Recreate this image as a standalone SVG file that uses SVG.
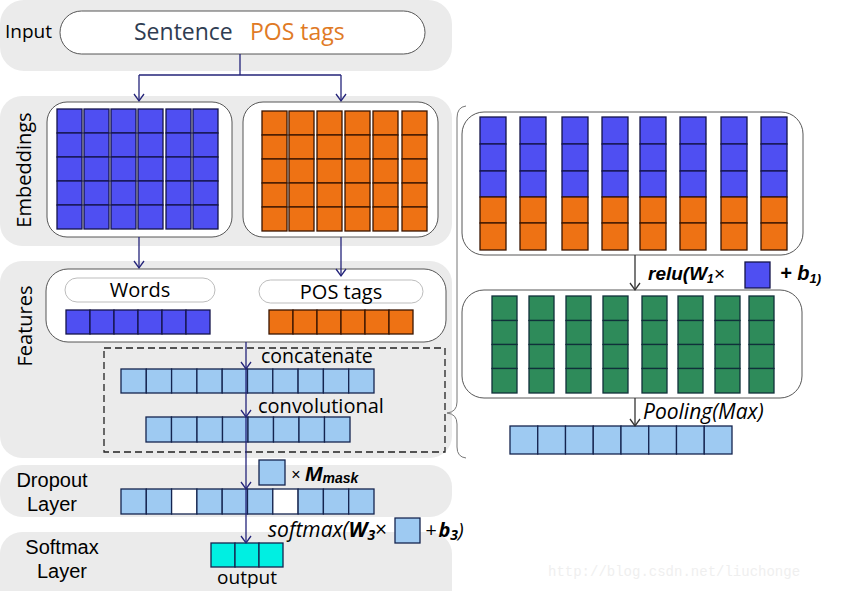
<svg xmlns="http://www.w3.org/2000/svg" xmlns:xlink="http://www.w3.org/1999/xlink" width="861" height="591" viewBox="0 0 861 591">
<style>
.band{fill:#ebebeb}
.box{fill:#fff;stroke:#444;stroke-width:0.9}
.pill{fill:#fff;stroke:#bdbdbd;stroke-width:1}
.b{fill:#4f4ff2;stroke:#14144a;stroke-width:1.3}
.o{fill:#ee7214;stroke:#3a1500;stroke-width:1.3}
.g{fill:#2e8b5a;stroke:#10303a;stroke-width:1.3}
.l{fill:#9ecaf2;stroke:#14244f;stroke-width:1.3}
.w{fill:#fff;stroke:#14244f;stroke-width:1.3}
.c{fill:#00efe2;stroke:#14244f;stroke-width:1.3}
.t{font-family:"Open Sans","Noto Sans","Liberation Sans",sans-serif;fill:#000}
.lab{font-family:"Liberation Sans",Arial,sans-serif;fill:#000;font-size:20px}
.conn{stroke:#24247a;stroke-width:1.3;fill:none}
.conng{stroke:#333;stroke-width:1.3;fill:none}
.math{font-family:"Liberation Sans",Arial,sans-serif;font-style:italic;fill:#000}
</style>
<defs>
<marker id="ah" markerWidth="12" markerHeight="12" refX="8" refY="6" orient="auto" markerUnits="userSpaceOnUse"><path d="M1,1 L8,6 L1,11" fill="none" stroke="#24247a" stroke-width="1.3"/></marker>
<marker id="ahg" markerWidth="12" markerHeight="12" refX="8" refY="6" orient="auto" markerUnits="userSpaceOnUse"><path d="M1,1 L8,6 L1,11" fill="none" stroke="#333" stroke-width="1.3"/></marker>
<g id="bcol"><rect class="b" x="0" y="0" width="25" height="24"/><rect class="b" x="0" y="24" width="25" height="24"/><rect class="b" x="0" y="48" width="25" height="24"/><rect class="b" x="0" y="72" width="25" height="24"/><rect class="b" x="0" y="96" width="25" height="24"/></g>
<g id="ocol"><rect class="o" x="0" y="0" width="25" height="24"/><rect class="o" x="0" y="24" width="25" height="24"/><rect class="o" x="0" y="48" width="25" height="24"/><rect class="o" x="0" y="72" width="25" height="24"/><rect class="o" x="0" y="96" width="25" height="24"/></g>
<g id="mcol"><rect class="b" x="0" y="0" width="26" height="27"/><rect class="b" x="0" y="27" width="26" height="27"/><rect class="b" x="0" y="54" width="26" height="26"/><rect class="o" x="0" y="80" width="26" height="26"/><rect class="o" x="0" y="106" width="26" height="27"/></g>
<g id="gcol"><rect class="g" x="0" y="0" width="25" height="24.5"/><rect class="g" x="0" y="24.5" width="25" height="24"/><rect class="g" x="0" y="48.5" width="25" height="24"/><rect class="g" x="0" y="72.5" width="25" height="24.5"/></g>
</defs>

<g id="bands">
<rect class="band" x="0" y="0" width="452" height="71" rx="24"/>
<rect class="band" x="0" y="96" width="452" height="150" rx="22"/>
<rect class="band" x="0" y="261" width="452" height="197" rx="22"/>
<rect class="band" x="0" y="465" width="452" height="52" rx="22"/>
<rect class="band" x="0" y="532" width="452" height="80" rx="22"/>
</g>

<g id="input">
<text class="t" x="5" y="38" font-size="19">Input</text>
<rect class="box" x="60" y="11" width="365" height="43" rx="21.5"/>
<text x="134" y="40" font-size="23" font-family="Open Sans,Noto Sans,Liberation Sans,sans-serif" fill="#2f3d52">Sentence</text>
<text x="250" y="40" font-size="23" font-family="Open Sans,Noto Sans,Liberation Sans,sans-serif" fill="#e07a25">POS tags</text>
</g>

<g id="embeddings">
<text class="t" font-size="20" transform="translate(31,170) rotate(-90)" text-anchor="middle">Embeddings</text>
<rect class="box" x="47" y="102" width="185" height="135" rx="20"/>
<use xlink:href="#bcol" x="57" y="109"/><use xlink:href="#bcol" x="84" y="109"/><use xlink:href="#bcol" x="111" y="109"/><use xlink:href="#bcol" x="138" y="109"/><use xlink:href="#bcol" x="166" y="109"/><use xlink:href="#bcol" x="193" y="109"/>
<rect class="box" x="243" y="102" width="195" height="135" rx="20"/>
<use xlink:href="#ocol" x="262" y="111"/><use xlink:href="#ocol" x="289" y="111"/><use xlink:href="#ocol" x="317" y="111"/><use xlink:href="#ocol" x="345" y="111"/><use xlink:href="#ocol" x="373" y="111"/><use xlink:href="#ocol" x="402" y="111"/>
</g>

<g id="features">
<text class="t" font-size="20" transform="translate(32,326) rotate(-90)" text-anchor="middle">Features</text>
<rect class="box" x="46" y="269" width="400" height="73" rx="22"/>
<rect class="pill" x="65" y="278" width="150" height="24" rx="12"/>
<text class="t" x="140" y="297" font-size="20" text-anchor="middle">Words</text>
<rect class="pill" x="259" y="280" width="164" height="23" rx="11.5"/>
<text class="t" x="341" y="299" font-size="20" text-anchor="middle">POS tags</text>
<rect class="b" x="66" y="310" width="24" height="24"/><rect class="b" x="90" y="310" width="24" height="24"/><rect class="b" x="114" y="310" width="24" height="24"/><rect class="b" x="138" y="310" width="24" height="24"/><rect class="b" x="162" y="310" width="24" height="24"/><rect class="b" x="186" y="310" width="24" height="24"/>
<rect class="o" x="269" y="310" width="24" height="24"/><rect class="o" x="293" y="310" width="24" height="24"/><rect class="o" x="317" y="310" width="24" height="24"/><rect class="o" x="341" y="310" width="24" height="24"/><rect class="o" x="365" y="310" width="24" height="24"/><rect class="o" x="389" y="310" width="24" height="24"/>
</g>

<g id="convblock">
<rect x="104" y="348" width="341" height="104" fill="none" stroke="#222" stroke-width="1.3" stroke-dasharray="7,4"/>
<text class="t" x="261" y="363" font-size="19.5">concatenate</text>
<rect class="l" x="121" y="369" width="25.3" height="24"/><rect class="l" x="146.3" y="369" width="25.3" height="24"/><rect class="l" x="171.6" y="369" width="25.3" height="24"/><rect class="l" x="196.9" y="369" width="25.3" height="24"/><rect class="l" x="222.2" y="369" width="25.3" height="24"/><rect class="l" x="247.5" y="369" width="25.3" height="24"/><rect class="l" x="272.8" y="369" width="25.3" height="24"/><rect class="l" x="298.1" y="369" width="25.3" height="24"/><rect class="l" x="323.4" y="369" width="25.3" height="24"/><rect class="l" x="348.7" y="369" width="25.3" height="24"/>
<text class="t" x="258" y="413" font-size="20">convolutional</text>
<rect class="l" x="146" y="417" width="25.5" height="25"/><rect class="l" x="171.5" y="417" width="25.5" height="25"/><rect class="l" x="197" y="417" width="25.5" height="25"/><rect class="l" x="222.5" y="417" width="25.5" height="25"/><rect class="l" x="248" y="417" width="25.5" height="25"/><rect class="l" x="273.5" y="417" width="25.5" height="25"/><rect class="l" x="299" y="417" width="25.5" height="25"/><rect class="l" x="324.5" y="417" width="25.5" height="25"/>
</g>

<g id="dropout">
<text class="lab" x="52" y="487" text-anchor="middle">Dropout</text>
<text class="lab" x="52" y="511" text-anchor="middle">Layer</text>
<rect class="l" x="259" y="460" width="26" height="25"/>
<text class="math" x="291" y="480" font-size="16" font-style="normal">×</text>
<text class="math" x="305" y="481" font-size="21" font-weight="bold">M<tspan font-size="14" dy="2">mask</tspan></text>
<rect class="l" x="121" y="489" width="25.3" height="25"/><rect class="l" x="146.3" y="489" width="25.3" height="25"/><rect class="w" x="171.6" y="489" width="25.3" height="25"/><rect class="l" x="196.9" y="489" width="25.3" height="25"/><rect class="l" x="222.2" y="489" width="25.3" height="25"/><rect class="l" x="247.5" y="489" width="25.3" height="25"/><rect class="w" x="272.8" y="489" width="25.3" height="25"/><rect class="l" x="298.1" y="489" width="25.3" height="25"/><rect class="l" x="323.4" y="489" width="25.3" height="25"/><rect class="l" x="348.7" y="489" width="25.3" height="25"/>
</g>

<g id="softmax">
<text class="lab" x="62" y="554" text-anchor="middle">Softmax</text>
<text class="lab" x="62" y="578" text-anchor="middle">Layer</text>
<text class="t" x="268" y="537" font-size="21" font-style="italic">softmax(<tspan font-weight="bold">W<tspan font-size="14" dy="3">3</tspan></tspan><tspan dy="-3" font-style="normal">×</tspan></text>
<rect class="l" x="395" y="518" width="25" height="25"/>
<text class="t" x="425" y="537" font-size="20" font-style="italic">+<tspan font-weight="bold" dx="2">b<tspan font-size="14" dy="3">3</tspan></tspan><tspan dy="-3">)</tspan></text>
<rect class="c" x="211" y="543" width="24" height="24"/><rect class="c" x="235" y="543" width="24" height="24"/><rect class="c" x="259" y="543" width="24" height="24"/>
<text class="t" x="247" y="584" font-size="19" text-anchor="middle">output</text>
</g>

<g id="rightpanel">
<path d="M466,106 Q457,107 457,118 L457,402 Q457,412 447,413 Q457,414 457,424 L457,447 Q457,457 466,458" fill="none" stroke="#777" stroke-width="1"/>
<rect class="box" x="462" y="112" width="341" height="143" rx="22"/>
<use xlink:href="#mcol" x="480" y="117"/><use xlink:href="#mcol" x="520" y="117"/><use xlink:href="#mcol" x="562" y="117"/><use xlink:href="#mcol" x="602" y="117"/><use xlink:href="#mcol" x="640" y="117"/><use xlink:href="#mcol" x="680" y="117"/><use xlink:href="#mcol" x="721" y="117"/><use xlink:href="#mcol" x="761" y="117"/>
<text class="math" x="648" y="280" font-size="19" font-weight="bold">relu(W<tspan font-size="12" dy="3">1</tspan><tspan dy="-3" font-weight="normal">×</tspan></text>
<rect class="b" x="745" y="262" width="25" height="26"/>
<text class="math" x="780" y="280" font-size="20" font-weight="bold">+ b<tspan font-size="13" dy="3">1)</tspan></text>
<rect class="box" x="462" y="290" width="340" height="108" rx="22"/>
<use xlink:href="#gcol" x="492" y="296"/><use xlink:href="#gcol" x="529" y="296"/><use xlink:href="#gcol" x="566" y="296"/><use xlink:href="#gcol" x="603" y="296"/><use xlink:href="#gcol" x="642" y="296"/><use xlink:href="#gcol" x="678" y="296"/><use xlink:href="#gcol" x="715" y="296"/><use xlink:href="#gcol" x="749" y="296"/>
<text class="t" x="643" y="419" font-size="21" font-style="italic">Pooling(Max)</text>
<rect class="l" x="510" y="426" width="27.75" height="28"/><rect class="l" x="537.75" y="426" width="27.75" height="28"/><rect class="l" x="565.5" y="426" width="27.75" height="28"/><rect class="l" x="593.25" y="426" width="27.75" height="28"/><rect class="l" x="621" y="426" width="27.75" height="28"/><rect class="l" x="648.75" y="426" width="27.75" height="28"/><rect class="l" x="676.5" y="426" width="27.75" height="28"/><rect class="l" x="704.25" y="426" width="27.75" height="28"/>
</g>

<g id="connectors">
<path class="conn" d="M240,54 V75 H139 M240,75 H341"/>
<path class="conn" d="M139,75 V101" marker-end="url(#ah)"/>
<path class="conn" d="M341,75 V101" marker-end="url(#ah)"/>
<path class="conn" d="M139,237 V268" marker-end="url(#ah)"/>
<path class="conn" d="M341,237 V276" marker-end="url(#ah)"/>
<path class="conn" d="M246,342 V369" marker-end="url(#ah)"/>
<path class="conn" d="M246,369 V417" marker-end="url(#ah)"/>
<path class="conn" d="M246,417 V489" marker-end="url(#ah)"/>
<path class="conn" d="M246,489 V543" marker-end="url(#ah)"/>
<path class="conng" d="M635,255 V290" marker-end="url(#ahg)"/>
<path class="conng" d="M635,398 V426" marker-end="url(#ahg)"/>
</g>

<text x="548" y="576" font-size="14" font-family="Liberation Mono,monospace" fill="#efefef">http://blog.csdn.net/liuchonge</text>
</svg>
